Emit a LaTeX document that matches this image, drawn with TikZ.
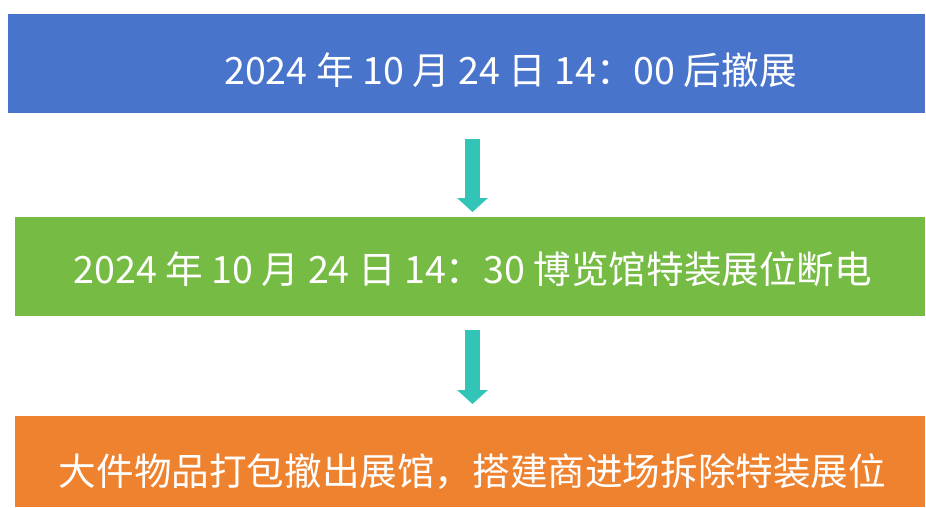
\documentclass[tikz,border=0pt]{standalone}
\usepackage{fontspec}
\setmainfont{Noto Sans CJK SC}
\usetikzlibrary{arrows.meta}
\definecolor{boxblue}{HTML}{4874CB}
\definecolor{boxgreen}{HTML}{76BB44}
\definecolor{boxorange}{HTML}{EE822F}
\definecolor{flowteal}{HTML}{32C4B6}
\begin{document}
\begin{tikzpicture}[x=1pt,y=1pt,
  band/.style={draw=none,inner sep=0pt,outer sep=0pt,anchor=north west},
  label/.style={text=white,inner sep=0pt,anchor=base,font=\fontsize{37.6}{42}\selectfont},
  flow/.style={draw=flowteal,line width=15pt,-{Triangle[width=30pt,length=14pt]}}]
\useasboundingbox (0,0) rectangle (926,-507);
\node[band,fill=boxblue,minimum width=917pt,minimum height=99pt] (blue) at (8,-14) {};
\node[band,fill=boxgreen,minimum width=910pt,minimum height=99pt] (green) at (15,-217) {};
\node[band,fill=boxorange,minimum width=910pt,minimum height=91pt] (orange) at (15,-416) {};
\node[label] (t1) at (510.5,-84) {2024 年 10 月 24 日 14：00 后撤展};
\node[label] (t2) at (473,-283) {2024 年 10 月 24 日 14：30 博览馆特装展位断电};
\node[label] (t3) at (472.5,-485) {大件物品打包撤出展馆，搭建商进场拆除特装展位};
\draw[flow,shorten <=26pt,shorten >=5pt] ([xshift=6pt]blue.south) -- ([xshift=6pt]blue.south |- green.north);
\draw[flow,shorten <=14pt,shorten >=12pt] ([xshift=2.5pt]green.south) -- ([xshift=2.5pt]green.south |- orange.north);
\end{tikzpicture}
\end{document}
